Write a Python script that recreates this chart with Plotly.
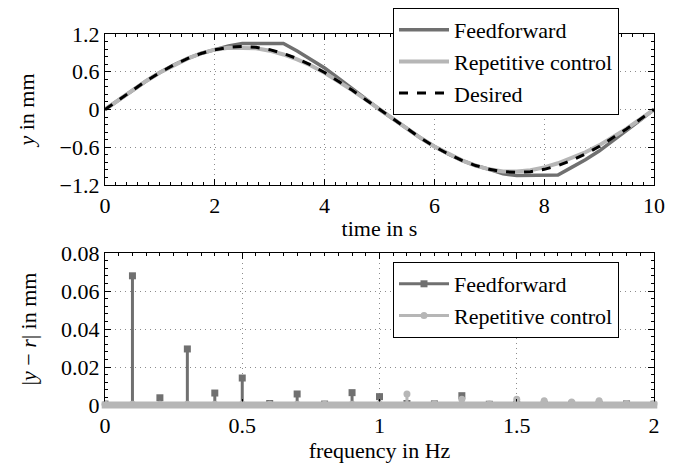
import plotly.graph_objects as go

# ---- top panel data (time in s, y in mm) ----
t = [0, 0.25, 0.5, 0.75, 1, 1.25, 1.5, 1.75, 2, 2.25, 2.5, 2.75, 3, 3.25, 3.5, 3.75, 4,
     4.25, 4.5, 4.75, 5, 5.25, 5.5, 5.75, 6, 6.25, 6.5, 6.75, 7, 7.25, 7.5, 7.75, 8,
     8.25, 8.5, 8.75, 9, 9.25, 9.5, 9.75, 10]
desired = [0, 0.156, 0.309, 0.454, 0.588, 0.707, 0.809, 0.891, 0.951, 0.988, 1.0, 0.988, 0.951,
           0.891, 0.809, 0.707, 0.588, 0.454, 0.309, 0.156, 0, -0.156, -0.309, -0.454, -0.588,
           -0.707, -0.809, -0.891, -0.951, -0.988, -1.0, -0.988, -0.951, -0.891, -0.809, -0.707,
           -0.588, -0.454, -0.309, -0.156, 0]
feedforward = [0, 0.156, 0.309, 0.454, 0.588, 0.707, 0.809, 0.891, 0.951, 1.01, 1.05, 1.05, 1.05,
               1.05, 0.93, 0.80, 0.66, 0.50, 0.34, 0.17, 0.0, -0.156, -0.309, -0.454, -0.588,
               -0.707, -0.809, -0.891, -0.951, -1.02, -1.05, -1.05, -1.05, -1.04, -0.92, -0.80,
               -0.66, -0.50, -0.33, -0.17, 0]
repetitive = [0, 0.156, 0.309, 0.454, 0.588, 0.707, 0.809, 0.891, 0.951, 0.980, 0.985, 0.975, 0.935,
              0.875, 0.795, 0.700, 0.585, 0.454, 0.309, 0.156, 0, -0.156, -0.309, -0.454, -0.588,
              -0.707, -0.809, -0.891, -0.951, -0.985, -0.985, -0.965, -0.920, -0.855, -0.775, -0.680,
              -0.570, -0.445, -0.305, -0.155, 0]

# ---- bottom panel data (frequency in Hz, |y-r| in mm) ----
freq = [0, 0.1, 0.2, 0.3, 0.4, 0.5, 0.6, 0.7, 0.8, 0.9, 1.0,
        1.1, 1.2, 1.3, 1.4, 1.5, 1.6, 1.7, 1.8, 1.9, 2.0]
err_ff = [0.0005, 0.068, 0.0038, 0.0295, 0.0063, 0.0142, 0.0008, 0.0058, 0.0005, 0.0065, 0.0044,
          0.0008, 0.0006, 0.0049, 0.0004, 0.0004, 0.0004, 0.0004, 0.0004, 0.0006, 0.0004]
err_rc = [0.0004, 0.0004, 0.0004, 0.0004, 0.0004, 0.0004, 0.0004, 0.0004, 0.0004, 0.0004, 0.0004,
          0.0058, 0.0006, 0.0030, 0.0005, 0.0030, 0.0022, 0.0016, 0.0022, 0.0008, 0.0006]

top_xticks = [0, 2, 4, 6, 8, 10]
top_yticks = [-1.2, -0.6, 0, 0.6, 1.2]
bot_xticks = [0, 0.5, 1, 1.5, 2]
bot_yticks = [0, 0.02, 0.04, 0.06, 0.08]

C_FF = "rgb(112,112,112)"
C_RC = "rgb(182,182,182)"
FONT = "Liberation Serif, DejaVu Serif, Noto Serif, Times New Roman, Times, serif"
FS = 22


def stems(x, y):
    xs, ys = [], []
    for a, b in zip(x, y):
        xs += [a, a, None]
        ys += [0, b, None]
    return xs, ys


fig = go.Figure()

# top panel
fig.add_trace(go.Scatter(x=t, y=feedforward, mode="lines", name="Feedforward",
                         line=dict(color=C_FF, width=3.5), xaxis="x", yaxis="y"))
fig.add_trace(go.Scatter(x=t, y=repetitive, mode="lines", name="Repetitive control",
                         line=dict(color=C_RC, width=4), xaxis="x", yaxis="y"))
fig.add_trace(go.Scatter(x=t, y=desired, mode="lines", name="Desired",
                         line=dict(color="black", width=3, dash="dash"), xaxis="x", yaxis="y"))

# bottom panel
sx, sy = stems(freq, err_ff)
fig.add_trace(go.Scatter(x=sx, y=sy, mode="lines", line=dict(color=C_FF, width=3),
                         xaxis="x2", yaxis="y2", showlegend=False, hoverinfo="skip"))
fig.add_trace(go.Scatter(x=freq, y=err_ff, mode="markers", showlegend=False,
                         marker=dict(symbol="square", size=7, color=C_FF),
                         xaxis="x2", yaxis="y2"))
fig.add_trace(go.Scatter(x=[None], y=[None], mode="lines+markers", name="Feedforward",
                         line=dict(color=C_FF, width=3), marker=dict(symbol="square", size=7, color=C_FF),
                         xaxis="x2", yaxis="y2", legend="legend2"))
rx, ry = stems(freq, err_rc)
fig.add_trace(go.Scatter(x=rx, y=ry, mode="lines", line=dict(color=C_RC, width=3),
                         xaxis="x2", yaxis="y2", showlegend=False, hoverinfo="skip"))
fig.add_trace(go.Scatter(x=freq, y=err_rc, mode="markers", showlegend=False,
                         marker=dict(symbol="circle", size=7, color=C_RC),
                         xaxis="x2", yaxis="y2", cliponaxis=False))
fig.add_trace(go.Scatter(x=[None], y=[None], mode="lines+markers", name="Repetitive control",
                         line=dict(color=C_RC, width=3), marker=dict(symbol="circle", size=7, color=C_RC),
                         xaxis="x2", yaxis="y2", legend="legend2"))

W, H = 684, 466
OFF = 8  # page body margin in the browser
xdom = [(105 - OFF) / W, (654 - OFF) / W]
ydom_top = [1 - (185 - OFF) / H, 1 - (34 - OFF) / H]
ydom_bot = [1 - (405 - OFF) / H, 1 - (253 - OFF) / H]

# dense near-zero repetitive-control marks along the frequency axis (drawn as a thick band)
fig.add_shape(type="line", xref="x2 domain", yref="paper",
              x0=-0.006, x1=1.006, y0=ydom_bot[0], y1=ydom_bot[0],
              line=dict(color=C_RC, width=7), layer="above")

axis_common = dict(showline=True, linecolor="black", linewidth=1.3, mirror="ticks",
                   ticks="inside", ticklen=6, tickcolor="black", tickwidth=1.2,
                   showgrid=True, gridcolor="rgb(140,140,140)", griddash="1px,4px", gridwidth=1,
                   zeroline=False, automargin=False,
                   tickfont=dict(family=FONT, size=FS, color="black"),
                   title_font=dict(family=FONT, size=FS, color="black"))

fig.update_layout(
    template="none",
    width=W, height=H, margin=dict(l=0, r=0, t=0, b=0),
    paper_bgcolor="white", plot_bgcolor="white",
    font=dict(family=FONT, size=FS, color="black"),
    xaxis=dict(axis_common, domain=xdom, anchor="y", range=[0, 10], tickvals=top_xticks,
               title=dict(text="time in s", standoff=4),
               minor=dict(ticks="inside", ticklen=3, dtick=0.2, tickcolor="black", showgrid=False)),
    yaxis=dict(axis_common, domain=ydom_top, anchor="x", range=[-1.2, 1.2], tickvals=top_yticks,
               ticktext=["\u22121.2", "\u22120.6", "0", "0.6", "1.2"],
               title=dict(text="<i>y</i> in mm", standoff=18),
               minor=dict(ticks="inside", ticklen=3, dtick=0.12, tickcolor="black", showgrid=False)),
    xaxis2=dict(axis_common, domain=xdom, anchor="y2", range=[0, 2], tickvals=bot_xticks,
                title=dict(text="frequency in Hz", standoff=4),
                minor=dict(ticks="inside", ticklen=3, dtick=0.05, tickcolor="black", showgrid=False)),
    yaxis2=dict(axis_common, domain=ydom_bot, anchor="x2", range=[0, 0.08], tickvals=bot_yticks,
                ticktext=["0", "0.02", "0.04", "0.06", "0.08"],
                title=dict(text="|<i>y</i> \u2212 <i>r</i>| in mm", standoff=18),
                minor=dict(ticks="inside", ticklen=3, dtick=0.004, tickcolor="black", showgrid=False)),
    legend=dict(x=(393 - OFF) / W, y=1.0, xanchor="left", yanchor="top",
                bgcolor="white", bordercolor="black", borderwidth=1, itemwidth=50,
                font=dict(family=FONT, size=FS, color="black")),
    legend2=dict(x=(393 - OFF) / W, y=1 - (262 - OFF) / H, xanchor="left", yanchor="top",
                 bgcolor="white", bordercolor="black", borderwidth=1, itemwidth=50,
                 font=dict(family=FONT, size=FS, color="black")),
    showlegend=True,
)

fig.write_html("out.html")
